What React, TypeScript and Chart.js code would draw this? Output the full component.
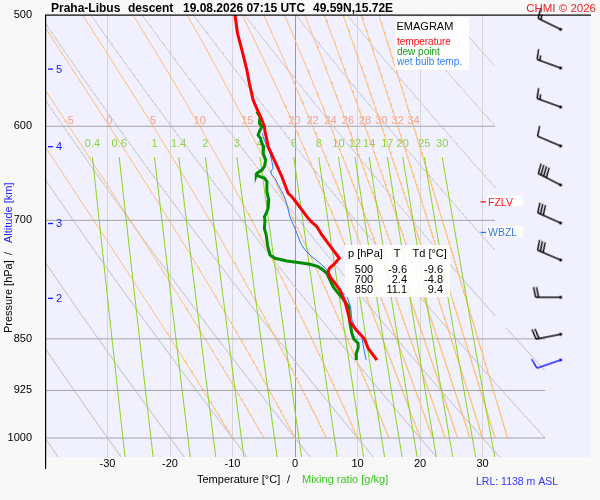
import React, { useEffect, useRef } from 'react';
import { Chart, registerables } from 'chart.js';

Chart.register(...registerables);

const FAMILY = '"Liberation Sans", Arial, Helvetica, sans-serif';

// ---------------- values ----------------
const titleParts = ['Praha-Libus', 'descent', '19.08.2026 07:15 UTC', '49.59N,15.72E'];
const copyrightText = 'CHMI \u00A9 2026';

const pressureTicks = [500, 600, 700, 850, 925, 1000];
const temperatureTicks = [-30, -20, -10, 0, 10, 20, 30];

// temperature profile
const tempP = [500, 515.2, 529.5, 547.2, 559.2, 574.7, 585.9, 592.2, 600.4, 605.3, 613.6, 620.4, 628.9, 635.8, 642.8, 651.7, 660.6, 669.6, 673.4, 680.7, 688.2, 695.8, 700, 707.3, 717, 724.9, 732.8, 740.9, 744.9, 751, 757.2, 761.8, 768.1, 776.1, 784.6, 799.8, 815.2, 826.4, 837.8, 850, 863.3, 880];
const tempT = [-9.6, -9.2, -8.5, -7.7, -7.3, -6.7, -5.9, -5.4, -4.9, -4.8, -4.5, -4.3, -3.7, -3.2, -2.7, -2.1, -1.6, -1.1, -0.5, 0.3, 1.1, 1.9, 2.4, 3.5, 4.3, 5.1, 5.9, 6.7, 7.1, 6.4, 5.5, 5.3, 5.6, 6.4, 7.2, 8.0, 8.5, 8.8, 9.8, 11.1, 11.7, 13.1];

// dew point profile
const dewP = [585.9, 590.7, 597.1, 600.4, 605.3, 608.7, 612, 617, 620.4, 627.2, 634.1, 641.1, 644.6, 648.1, 649.9, 651.7, 653.1, 657, 667.9, 677, 686.3, 691.9, 695.8, 700, 709.2, 717, 728.9, 740.9, 744.9, 748.2, 750.3, 752.3, 755.2, 759.4, 763.5, 771.9, 780.4, 786.8, 793.3, 799.8, 806.4, 819.7, 828.6, 842.3, 850, 856.2, 863.3, 870.4, 880];
const dewT = [-6.1, -5.6, -5.7, -5.3, -5.7, -5.9, -5.5, -5.3, -5.0, -5.1, -4.7, -4.9, -5.3, -6.1, -6.2, -5.6, -4.9, -4.5, -4.5, -4.2, -4.3, -4.6, -4.9, -4.8, -4.9, -4.6, -4.4, -4.0, -3.2, -1.3, 0.8, 2.4, 3.7, 4.5, 5.1, 5.6, 6.1, 6.7, 7.4, 8.0, 8.6, 8.7, 8.8, 9.1, 9.4, 10.1, 10.1, 9.8, 9.8];

// wet bulb profile
const wetP = [607, 610.3, 620.4, 627.2, 635.8, 642.8, 646.4, 649.9, 653.4, 660.6, 667.9, 675.2, 684.5, 693.9, 701.5, 709.2, 717, 726.8, 734.8, 743, 751, 757.2, 765.6, 776.1, 784.6, 793.3, 806.4, 824.2, 833.3, 847, 858.6, 872.8, 880];
const wetT = [-5.2, -5.1, -4.5, -4.0, -3.7, -3.5, -3.9, -3.7, -3.2, -2.7, -2.1, -1.6, -1.2, -0.9, -0.5, 0.0, 0.4, 0.9, 1.6, 2.7, 4.0, 4.9, 5.6, 6.4, 7.2, 8.3, 8.9, 9.1, 9.6, 10.7, 10.9, 11.2, 11.4];

// table
const tableP = [500, 700, 850];
const tableT = [-9.6, 2.4, 11.1];
const tableTd = [-9.6, -4.8, 9.4];

// winds
const windP = [511.9, 545.4, 581.4, 619.7, 660.6, 703.1, 747, 794.1, 843.7, 880];
const windDir = [296, 290, 290, 293, 297, 294, 293, 270, 259, 251];
const windKt = [15, 15, 15, 10, 40, 30, 30, 20, 20, 10];

// altitude marks
const altitudeKm = [5, 4, 3, 2];
const altitudeP = [546.3, 620.4, 703.6, 795.4];

// levels
const fzlvP = 679;
const wbzlP = 714;
const lrlText = 'LRL: 1138 m ASL';

// diagram reference lines
const isobarP = [600, 700, 850, 925, 1000];
const isobarEndT = [32, 32, 40, 40, 40];
const dryThetaC = [-40, -30, -20, -10, 0, 10, 20, 30, 40, 50, 60, 70, 80, 90];
const moistThetaW = [-10, -5, 0, 5, 10, 15, 20, 22, 24, 26, 28, 30, 32, 34];
const mixRatio = [0.4, 0.6, 1, 1.4, 2, 3, 4, 6, 8, 10, 12, 14, 17, 20, 25, 30];
const mixTopP = 631;

// ---------------- helpers ----------------
const WIND_COLUMN_T = 42.5;
const rightT = (p: number) => (p < 835 ? 32 : 40);

function satVap(tc: number) { return 6.112 * Math.exp((17.67 * tc) / (tc + 243.5)); }
function tempFromVap(e: number) { const l = Math.log(e / 6.112); return (243.5 * l) / (17.67 - l); }
function moistRate(p: number, tk: number) {
  const Rd = 287.04, cp = 1005.7, Lv = 2.501e6, eps = 0.622;
  const e = satVap(tk - 273.15);
  const rs = (eps * e) / (p - e);
  return ((Rd * tk + Lv * rs) / p) / (cp + (Lv * Lv * rs * eps) / (Rd * tk * tk));
}
function moistLine(thw: number) {
  const pts: { x: number; y: number }[] = [];
  let T = thw + 273.15;
  let p = 1000;
  const dp = -2;
  pts.push({ x: thw, y: 1000 });
  while (p > 500.01) {
    const k1 = moistRate(p, T);
    const k2 = moistRate(p + dp / 2, T + (dp / 2) * k1);
    const k3 = moistRate(p + dp / 2, T + (dp / 2) * k2);
    const k4 = moistRate(p + dp, T + dp * k3);
    T += (dp * (k1 + 2 * k2 + 2 * k3 + k4)) / 6;
    p += dp;
    pts.push({ x: T - 273.15, y: p });
  }
  return pts;
}
function drySegments(thetaC: number) {
  const segs: { x: number; y: number }[][] = [];
  let cur: { x: number; y: number }[] = [];
  for (let p = 500; p <= 1032; p += 1) {
    const T = (thetaC + 273.15) * Math.pow(p / 1000, 0.2857) - 273.15;
    if (T <= rightT(p) && T >= -41.5) cur.push({ x: T, y: p });
    else if (cur.length) { segs.push(cur); cur = []; }
  }
  if (cur.length) segs.push(cur);
  return segs;
}
function mixLine(w: number) {
  const pts: { x: number; y: number }[] = [];
  const n = 30;
  for (let i = 0; i <= n; i++) {
    const p = mixTopP + ((1032 - mixTopP) * i) / n;
    pts.push({ x: tempFromVap((w * p) / (622 + w)), y: p });
  }
  return pts;
}
function makeBarb(speed: number, color: string) {
  const L = 25, F = 10.5, S = 80;
  const c = document.createElement('canvas');
  c.width = S; c.height = S;
  const g = c.getContext('2d')!;
  const cx = S / 2, cy = S / 2;
  g.strokeStyle = color; g.fillStyle = color; g.lineWidth = 1.4;
  g.fillRect(cx - 1.3, cy - 1.3, 2.6, 2.6);
  g.beginPath(); g.moveTo(cx, cy); g.lineTo(cx, cy - L); g.stroke();
  const a = (12 * Math.PI) / 180;
  const fx = Math.cos(a), fy = -Math.sin(a);
  let rem = Math.round(speed / 5) * 5;
  let y = cy - L;
  while (rem >= 10) {
    g.beginPath(); g.moveTo(cx, y); g.lineTo(cx + F * fx, y + F * fy); g.stroke();
    y += 3; rem -= 10;
  }
  if (rem >= 5) {
    if (y === cy - L) y += 3;
    g.beginPath(); g.moveTo(cx, y); g.lineTo(cx + (F / 2) * fx, y + (F / 2) * fy); g.stroke();
  }
  return c;
}
const zip = (ps: number[], ts: number[]) => ps.map((p, i) => ({ x: ts[i], y: p }));

function text(ctx: CanvasRenderingContext2D, s: string, x: number, y: number, font: string, color: string, align: CanvasTextAlign = 'left', baseline: CanvasTextBaseline = 'alphabetic') {
  ctx.font = font; ctx.fillStyle = color; ctx.textAlign = align; ctx.textBaseline = baseline;
  ctx.fillText(s, x, y);
}

export default function App() {
  const ref = useRef<HTMLCanvasElement>(null);
  useEffect(() => {
    const canvas = ref.current!;
    const datasets: any[] = [];
    const bgLine = (data: any[], color: string, order: number) => ({
      data, borderColor: color, borderWidth: 1, pointRadius: 0, fill: false, tension: 0, order,
    });
    dryThetaC.forEach((th) => drySegments(th).forEach((seg) => datasets.push(bgLine(seg, '#cacaca', 40))));
    const moistLabels: { label: string; t: number }[] = [];
    moistThetaW.forEach((th) => {
      const pts = moistLine(th);
      const at600 = pts.find((q) => Math.abs(q.y - 600) < 0.5);
      if (at600) moistLabels.push({ label: String(th), t: at600.x });
      datasets.push(bgLine(pts.slice().reverse(), '#ffbd6e', 35));
    });
    const mixLabels: { label: string; t: number }[] = [];
    mixRatio.forEach((w) => {
      const pts = mixLine(w);
      mixLabels.push({ label: String(w), t: pts[0].x });
      datasets.push(bgLine(pts, '#8ad41c', 30));
    });
    isobarP.forEach((p, i) => datasets.push(bgLine([{ x: -40, y: p }, { x: isobarEndT[i], y: p }], '#a4a4a4', 25)));

    datasets.push({ data: zip(wetP, wetT), borderColor: '#2a78ff', borderWidth: 1, pointRadius: 0, fill: false, order: 3 });
    datasets.push({ data: zip(dewP, dewT), borderColor: '#008c00', borderWidth: 3, pointRadius: 0, fill: false, order: 2 });
    datasets.push({ data: zip(tempP, tempT), borderColor: '#ff0000', borderWidth: 3, pointRadius: 0, fill: false, order: 1 });

    const barbImgs = windKt.map((s, i) => makeBarb(s, i === windKt.length - 1 ? '#1010ff' : '#000000'));
    datasets.push({
      data: windP.map((p) => ({ x: WIND_COLUMN_T, y: p })),
      showLine: false, pointRadius: 3, clip: false, order: 0,
      pointStyle: (c: any) => barbImgs[c.dataIndex],
      pointRotation: (c: any) => windDir[c.dataIndex],
    });

    const decor = {
      id: 'decor',
      beforeDraw(chart: any) {
        const { ctx, chartArea: a } = chart;
        ctx.save();
        ctx.fillStyle = '#f8f8f8';
        ctx.fillRect(0, 0, chart.width, chart.height);
        ctx.fillStyle = '#f0f0ff';
        ctx.fillRect(a.left, a.top, a.right - a.left, a.bottom - a.top);
        ctx.restore();
      },
      beforeDatasetsDraw(chart: any) {
        const { ctx, chartArea: a } = chart;
        const xs = chart.scales.x, ys = chart.scales.y;
        ctx.save();
        const y600 = ys.getPixelForValue(600);
        moistLabels.forEach((m) => {
          const x = xs.getPixelForValue(m.t);
          if (x > a.left + 8) text(ctx, m.label, x, y600 - 1.8, `11px ${FAMILY}`, '#f5a090', 'center');
        });
        const yMix = ys.getPixelForValue(mixTopP) - 10.3;
        mixLabels.forEach((m) => text(ctx, m.label, xs.getPixelForValue(m.t), yMix, `11px ${FAMILY}`, '#8ad43a', 'center'));
        ctx.restore();
      },
      afterDatasetsDraw(chart: any) {
        const { ctx, chartArea: a } = chart;
        const xs = chart.scales.x, ys = chart.scales.y;
        ctx.save();
        // frame
        ctx.fillStyle = '#000';
        ctx.fillRect(a.left, a.top - 0.5, a.right - a.left, 1.2);
        ctx.fillRect(a.left, a.top, 1.2, 454);
        // title
        const tf = `bold 12px ${FAMILY}`;
        const tx = [51, 128, 183, 313];
        titleParts.forEach((s, i) => text(ctx, s, tx[i], 11.5, tf, '#000'));
        text(ctx, copyrightText, 596, 11.5, `11.5px ${FAMILY}`, '#ee2020', 'right');
        // legend box
        ctx.fillStyle = 'rgba(255,255,255,0.88)';
        ctx.fillRect(395, 17, 74, 53);
        text(ctx, 'EMAGRAM', 396.5, 30, `11px ${FAMILY}`, '#000');
        text(ctx, 'temperature', 397, 45, `10px ${FAMILY}`, '#ff1010');
        text(ctx, 'dew point', 397, 55, `10px ${FAMILY}`, '#18a018');
        text(ctx, 'wet bulb temp.', 397, 65, `10px ${FAMILY}`, '#3380ff');
        // table
        ctx.fillStyle = 'rgba(255,255,255,0.88)';
        ctx.fillRect(345, 245, 105, 52);
        const tfnt = `11px ${FAMILY}`;
        text(ctx, 'p [hPa]', 348, 256.5, tfnt, '#000');
        text(ctx, 'T', 397, 256.5, tfnt, '#000', 'center');
        text(ctx, 'Td [\u00B0C]', 412.5, 256.5, tfnt, '#000');
        tableP.forEach((p, i) => {
          const by = 272.7 + i * 10;
          text(ctx, String(p), 364, by, tfnt, '#000', 'center');
          text(ctx, tableT[i].toFixed(1), 407, by, tfnt, '#000', 'right');
          text(ctx, tableTd[i].toFixed(1), 443, by, tfnt, '#000', 'right');
        });
        // FZLV / WBZL
        const lev = (p: number, label: string, color: string) => {
          const y = ys.getPixelForValue(p);
          ctx.fillStyle = 'rgba(255,255,255,0.9)';
          ctx.fillRect(487, y - 6.5, 36, 11);
          ctx.fillStyle = color;
          ctx.fillRect(480.5, y - 0.6, 5.5, 1.3);
          text(ctx, label, 488, y + 3.8, `10.5px ${FAMILY}`, color);
        };
        lev(fzlvP, 'FZLV', '#ff1a1a');
        lev(wbzlP, 'WBZL', '#3377e0');
        // altitude marks
        altitudeKm.forEach((km, i) => {
          const y = ys.getPixelForValue(altitudeP[i]);
          ctx.fillStyle = '#1a1aff';
          ctx.fillRect(48, y - 0.6, 5, 1.3);
          text(ctx, String(km), 56, y + 3.8, `11px ${FAMILY}`, '#1a1aff');
        });
        // axis titles
        const af = `11px ${FAMILY}`;
        text(ctx, 'Temperature [\u00B0C]', 197, 482.5, af, '#000');
        text(ctx, '/', 287, 482.5, af, '#000');
        text(ctx, 'Mixing ratio [g/kg]', 302, 482.5, af, '#33cc1a');
        text(ctx, lrlText, 476, 485, `10.5px ${FAMILY}`, '#3333ff');
        ctx.save();
        ctx.translate(11.7, 333);
        ctx.rotate(-Math.PI / 2);
        text(ctx, 'Pressure [hPa]', 0, 0, af, '#000');
        text(ctx, '/', 78, 0, af, '#000');
        text(ctx, 'Altitude [km]', 90, 0, af, '#2222ff');
        ctx.restore();
        ctx.restore();
      },
    };

    const chart = new Chart(canvas, {
      type: 'line',
      data: { datasets },
      options: {
        responsive: false,
        animation: false,
        events: [],
        layout: { padding: { top: 15, right: 9, left: 0, bottom: 0 } },
        plugins: { legend: { display: false }, tooltip: { enabled: false }, title: { display: false } },
        scales: {
          x: {
            type: 'linear', position: 'bottom', min: -40, max: 47.36,
            afterFit: (s: any) => { s.height = 43; },
            afterBuildTicks: (s: any) => { s.ticks = temperatureTicks.map((v) => ({ value: v })); },
            ticks: { callback: (v: any) => String(v), color: '#000', font: { family: FAMILY, size: 11 }, padding: 0, autoSkip: false, maxRotation: 0 },
            grid: { color: (c: any) => (c.tick && c.tick.value === 0 ? '#9c9c9c' : '#d6d6d6'), drawTicks: false, lineWidth: 1 },
            border: { display: false },
          },
          y: {
            type: 'logarithmic', position: 'left', reverse: true, min: 500, max: 1031.6,
            afterFit: (s: any) => { s.width = 45; },
            afterBuildTicks: (s: any) => { s.ticks = pressureTicks.map((v) => ({ value: v })); },
            ticks: { callback: (v: any) => String(v), color: '#000', font: { family: FAMILY, size: 11 }, padding: 5, autoSkip: false },
            grid: { display: false },
            border: { display: false },
          },
        },
      } as any,
      plugins: [decor as any],
    });
    return () => chart.destroy();
  }, []);
  return (
    <div style={{ position: 'fixed', left: 0, top: 0, width: 600, height: 500, background: '#f8f8f8' }}>
      <canvas ref={ref} width={600} height={500} style={{ display: 'block', width: 600, height: 500 }} />
    </div>
  );
}
